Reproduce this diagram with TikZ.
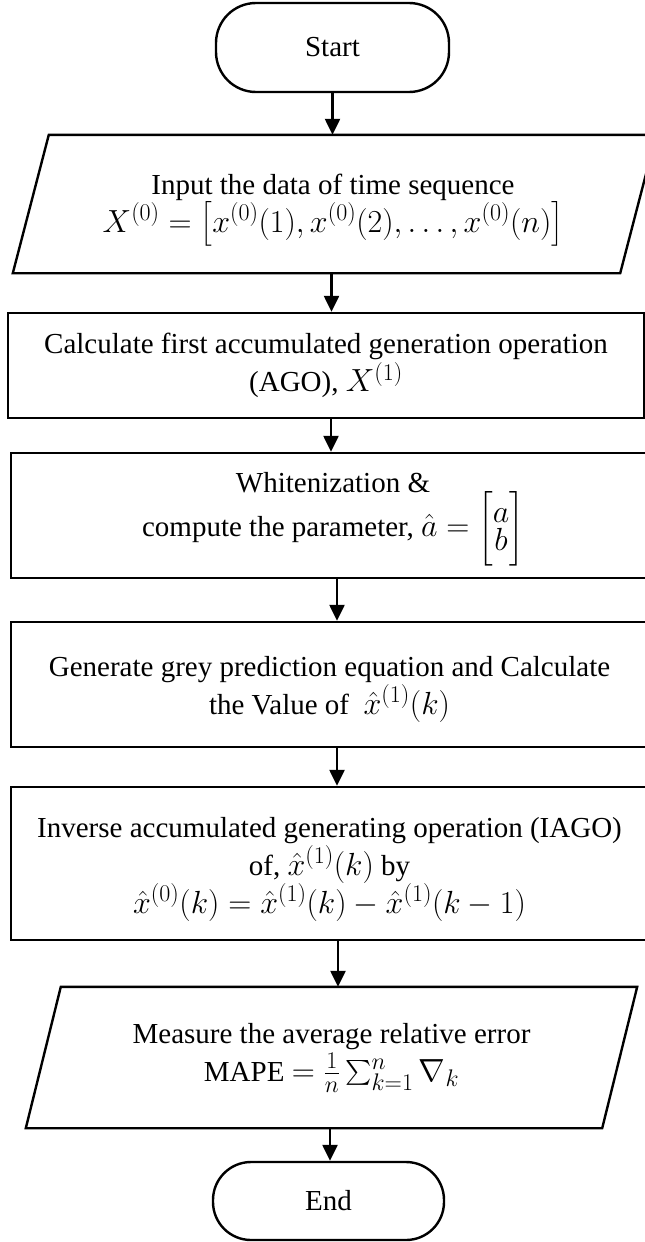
\RequirePackage{fix-cm}
\documentclass[tikz,border=0pt]{standalone}
\usepackage{amsmath}
\usepackage{fontspec}
\setmainfont{Liberation Serif}
\DeclareMathSizes{29}{32}{24}{18}
\usetikzlibrary{arrows.meta,calc}
\begin{document}
\begin{tikzpicture}[x=1pt,y=-1pt,
  every node/.style={font=\fontsize{29}{38}\selectfont, align=center, inner sep=0pt},
  shapeline/.style={line width=2.4pt, line join=miter},
  proc/.style={draw, shapeline, rectangle},
  term/.style={draw, shapeline, rectangle, rounded corners=40pt},
  iobox/.style={rectangle, draw=none},
  arr/.style={line width=2.4pt, -{Triangle[length=16pt,width=15pt]}}
]
\useasboundingbox (0,0) rectangle (645,1242);
\fill[white] (0,0) rectangle (645,1242);

\node[term, minimum width=233pt, minimum height=89pt] (start) at (332.5,47.5) {Start};

\node[iobox, minimum width=607pt, minimum height=138pt] (in) at (334.5,204) {};
\draw[shapeline] ($(in.north west)+(18,0)$) -- ($(in.north east)+(18,0)$)
  -- ($(in.south east)+(-18,0)$) -- ($(in.south west)+(-18,0)$) -- cycle;
\node (intext) at (333,210)
  {Input the data of time sequence\\
   $X^{(0)} = \bigl[x^{(0)}(1), x^{(0)}(2), \dots, x^{(0)}(n)\bigr]$};

\node[proc, minimum width=636pt, minimum height=105pt] (ago) at (326,365.5)
  {Calculate first accumulated generation operation\\ (AGO), $X^{(1)}$};

\node[proc, minimum width=637pt, minimum height=125pt] (white) at (329.5,515.5) {};
\node (whitetext) at (333,519)
  {Whitenization \&\\[-2pt] compute the parameter, $\hat{a} = \begin{bmatrix} a\\[-10pt] b\end{bmatrix}$};

\node[proc, minimum width=637pt, minimum height=125pt] (gen) at (329.5,684.5) {};
\node (gentext) at (329.5,689.5)
  {Generate grey prediction equation and Calculate\\ the Value of \ $\hat{x}^{(1)}(k)$};

\node[proc, minimum width=637pt, minimum height=153pt] (iago) at (329.5,863.5) {};
\node (iagotext) at (329.5,869)
  {Inverse accumulated generating operation (IAGO)\\
   of, $\hat{x}^{(1)}(k)$ by\\
   $\hat{x}^{(0)}(k) = \hat{x}^{(1)}(k) - \hat{x}^{(1)}(k-1)$};

\node[iobox, minimum width=576pt, minimum height=141pt] (mape) at (331.5,1057.5)
  {Measure the average relative error\\
   MAPE $= \frac{1}{n}\sum_{k=1}^{n}\nabla_k$};
\draw[shapeline] ($(mape.north west)+(17.5,0)$) -- ($(mape.north east)+(17.5,0)$)
  -- ($(mape.south east)+(-17.5,0)$) -- ($(mape.south west)+(-17.5,0)$) -- cycle;

\node[term, minimum width=231pt, minimum height=78pt, rounded corners=38pt] (end) at (328.5,1201) {End};

\draw[arr] (start.south) -- (start.south |- in.north);
\draw[arr] ([xshift=-3pt]in.south) -- ([xshift=-3pt]in.south |- ago.north);
\draw[arr] ([xshift=5pt]ago.south) -- ([xshift=5pt]ago.south |- white.north);
\draw[arr] ([xshift=7.5pt]white.south) -- ([xshift=7.5pt]white.south |- gen.north);
\draw[arr] ([xshift=7.5pt]gen.south) -- ([xshift=7.5pt]gen.south |- iago.north);
\draw[arr] ([xshift=8.5pt]iago.south) -- ([xshift=8.5pt]iago.south |- mape.north);
\draw[arr] ([xshift=-1.5pt]mape.south) -- ([xshift=-1.5pt]mape.south |- end.north);
\end{tikzpicture}
\end{document}
